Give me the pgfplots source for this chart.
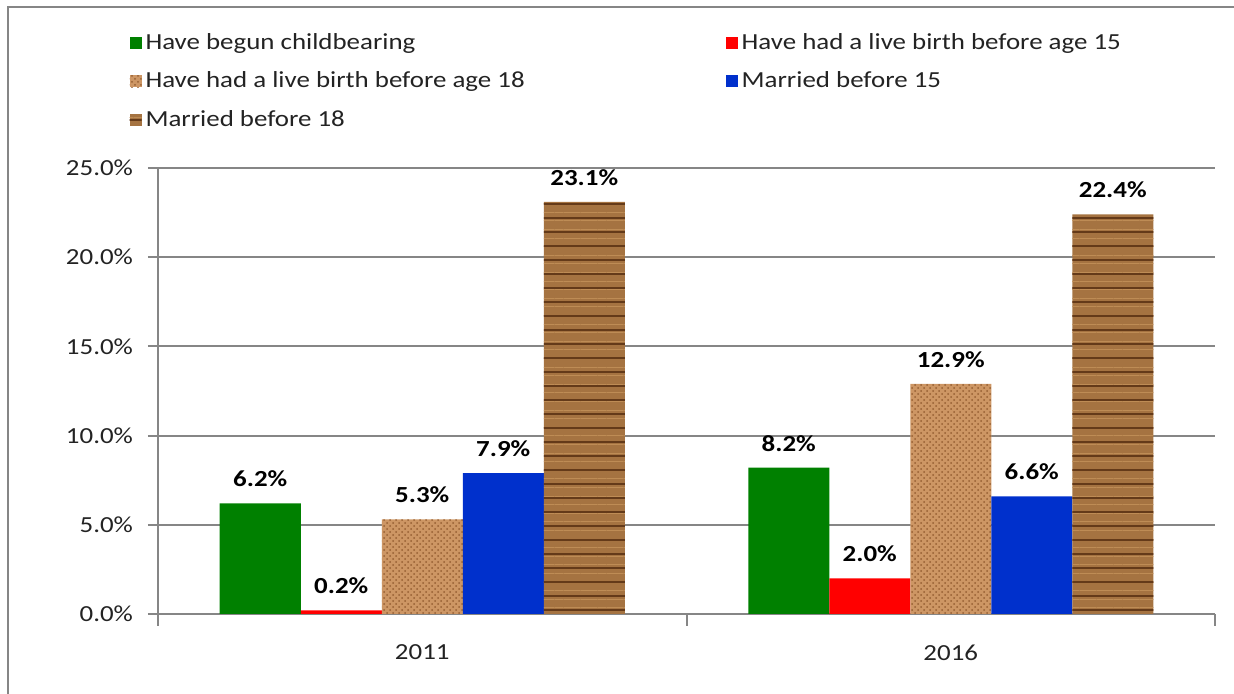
\documentclass[border=0pt]{standalone}
\usepackage{fontspec}
\setmainfont{Carlito}[FakeStretch=1.17]
\usepackage{pgfplots}
\pgfplotsset{compat=1.18}
\usetikzlibrary{patterns,patterns.meta}
\definecolor{cgreen}{RGB}{0,128,0}
\definecolor{cred}{RGB}{255,0,0}
\definecolor{cblue}{RGB}{0,48,204}
\definecolor{cork}{RGB}{205,150,100}
\definecolor{corkdark}{RGB}{150,95,50}
\definecolor{wood}{RGB}{165,115,65}
\definecolor{wooddark}{RGB}{100,58,25}
\definecolor{woodlight}{RGB}{190,140,85}
\definecolor{gridgray}{RGB}{134,134,134}
\definecolor{txt}{RGB}{35,35,35}
\pgfplotsset{mylegend/.style={legend image code/.code={\fill[##1] (0pt,-3pt) rectangle (6pt,3pt);}}}
\begin{document}
\fontsize{11.5}{13.5}\selectfont
\begin{tikzpicture}
\path[use as bounding box] (-79pt,-40pt) rectangle (538pt,307pt);
\draw[gridgray, line width=1pt] (-75pt,-45pt) -- (-75pt,303.5pt) -- (545pt,303.5pt);
\begin{axis}[
  at={(0,0)}, anchor=south west,
  scale only axis, width=528.5pt, height=223pt,
  clip=false,
  ybar=0pt, bar width=40.5pt,
  xmin=-0.5, xmax=1.5, ymin=0, ymax=25,
  axis x line*=bottom, axis y line*=left,
  axis line style={gridgray, line width=1pt, -},
  tick style={gridgray, line width=1pt},
  tick align=outside,
  major tick length=5pt, minor tick length=6pt,
  xtick={0,1}, xticklabels={2011,2016},
  major x tick style={draw=none},
  minor xtick={-0.5,0.5,1.5},
  xticklabel style={yshift=-6.5pt},
  ytick={0,5,10,15,20,25},
  yticklabel={\pgfmathprintnumber[fixed,fixed zerofill,precision=1]{\tick}\%},
  yticklabel style={xshift=-3.5pt},
  /pgf/number format/assume math mode=true,
  ymajorgrids, major grid style={gridgray, line width=1pt},
  ticklabel style={text=txt},
  nodes near coords={\pgfmathprintnumber[fixed,fixed zerofill,precision=1,assume math mode=true]{\pgfplotspointmeta}\%},
  nodes near coords style={font=\bfseries, text=black, anchor=south, inner sep=0pt, yshift=8pt},
  legend columns=2,
  legend cell align=left,
  legend style={at={(axis description cs:-0.033,1.321)}, anchor=north west, draw=none, fill=none, text=txt,
    /tikz/every even column/.append style={column sep=98.5pt}, row sep=5.5pt},
]
\addplot[fill=cgreen, draw=none, mylegend] coordinates {(0,6.2) (1,8.2)};
\addlegendentry{Have begun childbearing}
\addplot[fill=cred, draw=none, mylegend] coordinates {(0,0.2) (1,2.0)};
\addlegendentry{Have had a live birth before age 15}
\addplot[fill=cork, draw=none, postaction={pattern=crosshatch dots, pattern color=corkdark}, mylegend] coordinates {(0,5.3) (1,12.9)};
\addlegendentry{Have had a live birth before age 18}
\addplot[fill=cblue, draw=none, mylegend] coordinates {(0,7.9) (1,6.6)};
\addlegendentry{Married before 15}
\addplot[fill=wood, draw=none,
  postaction={pattern={Lines[angle=0,distance=4.3pt,line width=0.5pt]}, pattern color=woodlight},
  postaction={pattern={Lines[angle=0,distance=7pt,line width=1.1pt]}, pattern color=wooddark}, mylegend] coordinates {(0,23.1) (1,22.4)};
\addlegendentry{Married before 18}
\end{axis}
\end{tikzpicture}
\end{document}
